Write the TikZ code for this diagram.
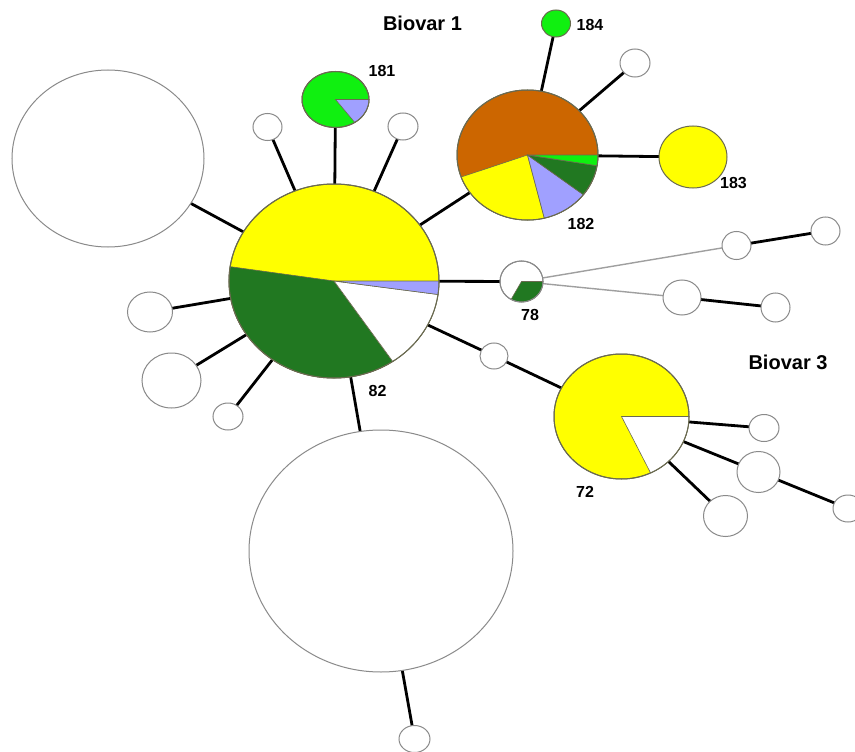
\documentclass[tikz,border=0pt]{standalone}
\usepackage{fontspec}
\setmainfont{Liberation Sans}
\usetikzlibrary{shapes.geometric,backgrounds}
\definecolor{yel}{HTML}{FFFF00}
\definecolor{dkg}{HTML}{217821}
\definecolor{ltg}{HTML}{10F010}
\definecolor{blu}{HTML}{A0A0FF}
\definecolor{brn}{HTML}{CC6600}
\definecolor{wline}{HTML}{8A8A8A}
\definecolor{pline}{HTML}{6A6A50}
\tikzset{
  hap/.style={ellipse, inner sep=0pt, outer sep=0pt, draw=wline, line width=1pt, fill=white},
  piebase/.style={draw=pline},
  link/.style={line width=2.8pt, black},
  glink/.style={line width=1.4pt, gray!75},
  lab/.style={font=\bfseries\fontsize{16}{16}\selectfont, inner sep=0pt},
  titl/.style={font=\bfseries\fontsize{20}{20}\selectfont, inner sep=0pt},
  seg/.style={draw=pline, line width=0.6pt},
}
% name, x, y, width, height, extra style
\newcommand\hn[6]{\node[hap,#6,minimum width=#4pt,minimum height=#5pt] (#1) at (#2,#3) {};}
% node, rx, ry, start, end, colour
\newcommand\sect[6]{\filldraw[fill=#6,seg] (#1.center) -- ++(#4:#2pt and #3pt) arc[start angle=#4, end angle=#5, x radius=#2pt, y radius=#3pt] -- cycle;}
\newcommand\rim[3]{\draw[pline,line width=1pt] (#1.center) ellipse[x radius=#2pt, y radius=#3pt];}
\begin{document}
\begin{tikzpicture}[x=1pt,y=-1pt]
\useasboundingbox (0,0) rectangle (855,752);
\clip (0,0) rectangle (855,752);
% nodes
\hn{n82}{334}{281}{210}{194}{piebase,fill=yel}
\hn{nL}{108}{158.5}{192}{177}{}
\hn{n181}{335.5}{99.5}{67}{56}{piebase,fill=ltg}
\hn{s1}{267.5}{127}{29}{27}{}
\hn{s2}{403}{126.5}{30}{27}{}
\hn{n182}{527.5}{155}{141}{130}{piebase,fill=brn}
\hn{n184}{556}{23.5}{29}{27}{piebase,fill=ltg}
\hn{s3}{635}{63}{30}{28}{}
\hn{n183}{693}{157}{68}{62}{piebase,fill=yel}
\hn{n78}{521.5}{281.5}{43}{41}{}
\hn{s4}{736.5}{245.5}{29}{28}{}
\hn{s5}{825.5}{231}{29}{28}{}
\hn{s6}{682}{297.5}{38}{35}{}
\hn{s7}{775.5}{307.5}{29}{29}{}
\hn{s8}{494}{356}{28}{26}{}
\hn{n72}{621.5}{416.5}{135}{125}{piebase,fill=yel}
\hn{s9}{764}{428}{30}{27}{}
\hn{s10}{758.5}{472}{43}{41}{}
\hn{s11}{848}{508.5}{30}{27}{}
\hn{s12}{725.5}{516}{44}{41}{}
\hn{sA}{150}{312}{45}{40}{}
\hn{sB}{171.5}{380.5}{59}{55}{}
\hn{sC}{228}{416.5}{30}{27}{}
\hn{nB}{381}{551}{264}{242}{}
\hn{s13}{414.5}{739}{31}{27}{}
% pie sectors
\sect{n82}{105}{97}{171.5}{304}{dkg}
\sect{n82}{105}{97}{304}{352}{white}
\sect{n82}{105}{97}{352}{360}{blu}
\rim{n82}{105}{97}
\sect{n181}{33.5}{28}{305}{360}{blu}
\rim{n181}{33.5}{28}
\sect{n182}{70.5}{65}{199.8}{283.8}{yel}
\sect{n182}{70.5}{65}{283.8}{322.4}{blu}
\sect{n182}{70.5}{65}{322.4}{350.5}{dkg}
\sect{n182}{70.5}{65}{350.5}{360}{ltg}
\rim{n182}{70.5}{65}
\sect{n78}{21.5}{20.5}{241}{360}{dkg}
\draw[wline,line width=1pt] (n78.center) ellipse[x radius=21.5pt, y radius=20.5pt];
\sect{n72}{67.5}{62.5}{295.5}{360}{white}
\rim{n72}{67.5}{62.5}
% connectors
\begin{pgfonlayer}{background}
\fill[white] (0,0) rectangle (855,752);
\foreach \a/\b in {n82/nL, n82/n181, n82/s1, n82/s2, n82/n182, n182/n184, n182/s3, n182/n183,
  n82/n78, n82/s8, s8/n72, n72/s9, n72/s10, s10/s11, n72/s12, n82/sA, n82/sB, n82/sC,
  n82/nB, nB/s13, s4/s5, s6/s7}
  \draw[link] (\a.center) -- (\b.center);
\draw[glink] (n78.center) -- (s4.center);
\draw[glink] (n78.center) -- (s6.center);
\end{pgfonlayer}
% labels
\node[titl] (t1) at (422.5,23.5) {Biovar 1};
\node[titl] (t3) at (788,362) {Biovar 3};
\node[lab] (l184) at (590,25) {184};
\node[lab] (l181) at (382,71) {181};
\node[lab] (l183) at (733.5,183.5) {183};
\node[lab] (l182) at (581,224) {182};
\node[lab] (l78) at (530,315) {78};
\node[lab] (l82) at (377.5,390.5) {82};
\node[lab] (l72) at (585,491.5) {72};
\end{tikzpicture}
\end{document}
